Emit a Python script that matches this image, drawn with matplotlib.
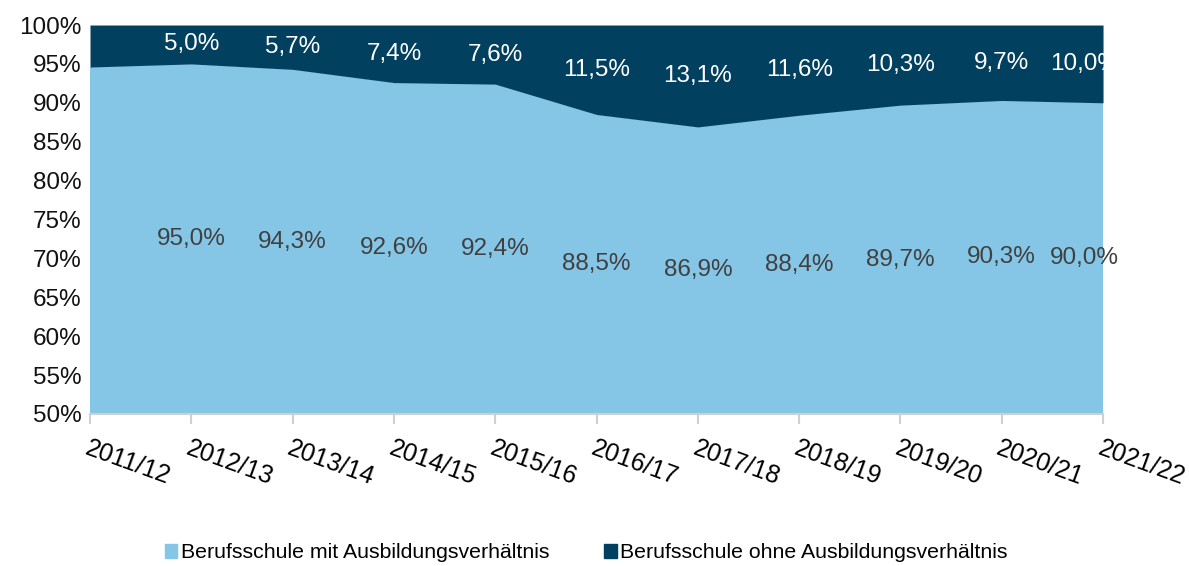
import numpy as np
import matplotlib.pyplot as plt
from matplotlib.patches import Patch

plt.rcParams['font.family'] = ['Liberation Sans', 'DejaVu Sans']

# -------------------------------
# Data
# -------------------------------
years = ["2011/12", "2012/13", "2013/14", "2014/15", "2015/16", "2016/17",
         "2017/18", "2018/19", "2019/20", "2020/21", "2021/22"]
mit = [94.6, 95.0, 94.3, 92.6, 92.4, 88.5, 86.9, 88.4, 89.7, 90.3, 90.0]
ohne = [5.4, 5.0, 5.7, 7.4, 7.6, 11.5, 13.1, 11.6, 10.3, 9.7, 10.0]
labeled = [False] + [True] * 10  # first year has no data labels

light = "#85C6E7"
dark = "#01405F"

x = np.arange(len(years))
mit = np.array(mit)
ohne = np.array(ohne)

fig = plt.figure(figsize=(11.89, 5.66), dpi=100)
ax = fig.add_axes([0.0757, 0.2686, 0.852, 0.6872])

ax.fill_between(x, 0, mit, color=light, linewidth=0)
ax.fill_between(x, mit, mit + ohne, color=dark, linewidth=0)

ax.set_xlim(0, len(years) - 1)
ax.set_ylim(50, 100)
ax.set_yticks(np.arange(50, 101, 5))
ax.set_yticklabels([f"{v}%" for v in range(50, 101, 5)], fontsize=17.5)
ax.tick_params(axis="y", length=0, pad=6, labelcolor="#111111")

ax.set_xticks(x)
ax.set_xticklabels(years, fontsize=18, rotation=-20, ha="left", va="top",
                   rotation_mode="anchor")
ax.tick_params(axis="x", length=7, color="#d0d0d0", width=1.5, pad=9)

for s in ["top", "left", "right"]:
    ax.spines[s].set_visible(False)
ax.spines["bottom"].set_color("#d0d0d0")
ax.spines["bottom"].set_linewidth(1.5)

# data labels
fmt = lambda v: f"{v:.1f}%".replace(".", ",")
for i in range(len(years)):
    if not labeled[i]:
        continue
    xi = x[i] - 0.18 if i == len(years) - 1 else x[i]
    ax.text(xi, (50 + mit[i]) / 2, fmt(mit[i]), ha="center", va="center",
            fontsize=17.5, color="#404040")
    ax.text(xi, mit[i] + ohne[i] / 2, fmt(ohne[i]), ha="center", va="center",
            fontsize=17.5, color="white")

handles = [Patch(color=light, label="Berufsschule mit Ausbildungsverhältnis"),
           Patch(color=dark, label="Berufsschule ohne Ausbildungsverhältnis")]
fig.legend(handles=handles, loc="center", bbox_to_anchor=(0.493, 0.023),
           ncol=2, frameon=False, fontsize=15.3, handlelength=0.6,
           handleheight=0.6, handletextpad=0.15, columnspacing=2.6)

fig.savefig("out.png", dpi=100)
